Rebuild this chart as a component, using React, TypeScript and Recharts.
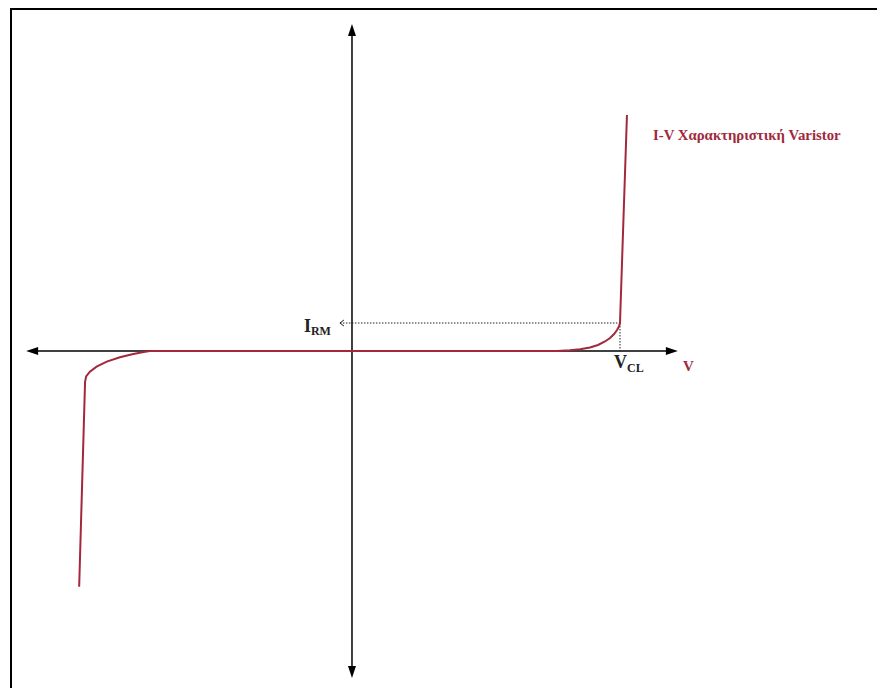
import React from "react";
import { LineChart, Line, XAxis, YAxis, ReferenceLine, ReferenceDot } from "recharts";

// Voltage (V, relative: V_CL = 100) and current (I, relative: I_RM = 1)
const voltage = [
  -101.8, -99.6, -99.2, -97.8, -95.3, -91.5, -86.6, -81.6, -77.2, -75.4,
  76.5, 81.3, 85.1, 88.8, 91.8, 94.4, 96.3, 97.8, 98.9, 99.6, 100, 102.6,
];
const current = [
  -8.42, -1.1, -0.91, -0.74, -0.56, -0.38, -0.225, -0.107, -0.025, 0,
  0, 0.025, 0.061, 0.125, 0.214, 0.339, 0.464, 0.607, 0.75, 0.875, 1.0, 8.43,
];
const VCL = 100;
const IRM = 1;
const titleText = "I-V Χαρακτηριστική Varistor";
const axisLabelV = "V";

const data = voltage.map((v, k) => ({ v, i: current[k] }));

const W = 877;
const H = 688;
const X_DOMAIN: [number, number] = [-131.34, 195.9];
const Y_DOMAIN: [number, number] = [-12.036, 12.536];
const AXIS_X_EXT = 121.6;
const AXIS_Y_EXT = 11.68;
const RED = "#A2283B";
const FONT = "'Liberation Serif', 'Times New Roman', serif";

const arrowAxis = (p: any) => {
  const { x1, y1, x2, y2 } = p;
  const dx = x2 - x1;
  const dy = y2 - y1;
  const len = Math.sqrt(dx * dx + dy * dy) || 1;
  const ux = dx / len;
  const uy = dy / len;
  const L = 12;
  const hw = 4;
  const head = (tx: number, ty: number, dirx: number, diry: number) => {
    const bx = tx - dirx * L;
    const by = ty - diry * L;
    const px = -diry * hw;
    const py = dirx * hw;
    return `${tx},${ty} ${bx + px},${by + py} ${bx - px},${by - py}`;
  };
  return (
    <g>
      <line x1={x1 + ux * 8} y1={y1 + uy * 8} x2={x2 - ux * 8} y2={y2 - uy * 8} stroke="#000" strokeWidth={1.5} />
      <polygon points={head(x2, y2, ux, uy)} fill="#000" />
      <polygon points={head(x1, y1, -ux, -uy)} fill="#000" />
    </g>
  );
};

const dottedH = (p: any) => {
  const { x1, y1, x2, y2 } = p;
  const lx = Math.min(x1, x2);
  const rx = Math.max(x1, x2);
  return (
    <g>
      <line x1={lx} y1={y1} x2={rx} y2={y2} stroke="#222" strokeWidth={1} strokeDasharray="1.5 1.5" />
      <polyline points={`${lx + 4},${y1 - 3} ${lx},${y1} ${lx + 4},${y1 + 3}`} fill="none" stroke="#222" strokeWidth={1} />
    </g>
  );
};

const dottedV = (p: any) => {
  const { x1, y1, x2, y2 } = p;
  return <line x1={x1} y1={y1} x2={x2} y2={y2} stroke="#222" strokeWidth={1} strokeDasharray="1.5 1.5" />;
};

const irmLabel = (p: any) => (
  <text x={p.cx - 36} y={p.cy + 9} fontFamily={FONT} fontWeight="bold" fill="#222">
    <tspan fontSize={18}>I</tspan>
    <tspan fontSize={12} dy={3}>RM</tspan>
  </text>
);

const vclLabel = (p: any) => (
  <text x={p.cx - 6} y={p.cy + 17} fontFamily={FONT} fontWeight="bold" fill="#222">
    <tspan fontSize={18}>V</tspan>
    <tspan fontSize={12} dy={4}>CL</tspan>
  </text>
);

const vAxisLabel = (p: any) => (
  <text x={p.cx + 5} y={p.cy + 20} fontFamily={FONT} fontWeight="bold" fontSize={15} fill={RED}>
    {axisLabelV}
  </text>
);

const titleLabel = (p: any) => (
  <text x={p.cx + 26} y={p.cy + 25} fontFamily={FONT} fontWeight="bold" fontSize={14.8} fill={RED}>
    {titleText}
  </text>
);

export default function App() {
  return (
    <div style={{ position: "absolute", left: 0, top: 0, width: W, height: H, overflow: "hidden", background: "#fff" }}>
      <div
        style={{
          position: "absolute",
          left: 10,
          top: 8,
          width: W + 40,
          height: H + 40,
          borderTop: "2px solid #000",
          borderLeft: "2px solid #000",
          boxSizing: "border-box",
        }}
      />
      <div style={{ position: "absolute", left: 0, top: 0 }}>
        <LineChart width={W} height={H} data={data} margin={{ top: 0, right: 0, bottom: 0, left: 0 }}>
          <XAxis dataKey="v" type="number" domain={X_DOMAIN} allowDataOverflow hide />
          <YAxis type="number" domain={Y_DOMAIN} allowDataOverflow hide />
          <ReferenceLine
            segment={[{ x: -AXIS_X_EXT, y: 0 }, { x: AXIS_X_EXT, y: 0 }]}
            shape={arrowAxis}
            ifOverflow="visible"
          />
          <ReferenceLine
            segment={[{ x: 0, y: -AXIS_Y_EXT }, { x: 0, y: AXIS_Y_EXT }]}
            shape={arrowAxis}
            ifOverflow="visible"
          />
          <ReferenceLine
            segment={[{ x: -4.5, y: IRM }, { x: VCL, y: IRM }]}
            shape={dottedH}
            ifOverflow="visible"
          />
          <ReferenceLine
            segment={[{ x: VCL, y: IRM }, { x: VCL, y: 0 }]}
            shape={dottedV}
            ifOverflow="visible"
          />
          <Line
            dataKey="i"
            type="linear"
            stroke={RED}
            strokeWidth={2}
            dot={false}
            activeDot={false}
            isAnimationActive={false}
          />
          <ReferenceDot x={-4.5} y={IRM} r={0} shape={irmLabel} ifOverflow="visible" />
          <ReferenceDot x={VCL} y={0} r={0} shape={vclLabel} ifOverflow="visible" />
          <ReferenceDot x={AXIS_X_EXT} y={0} r={0} shape={vAxisLabel} ifOverflow="visible" />
          <ReferenceDot x={102.6} y={8.43} r={0} shape={titleLabel} ifOverflow="visible" />
        </LineChart>
      </div>
    </div>
  );
}
